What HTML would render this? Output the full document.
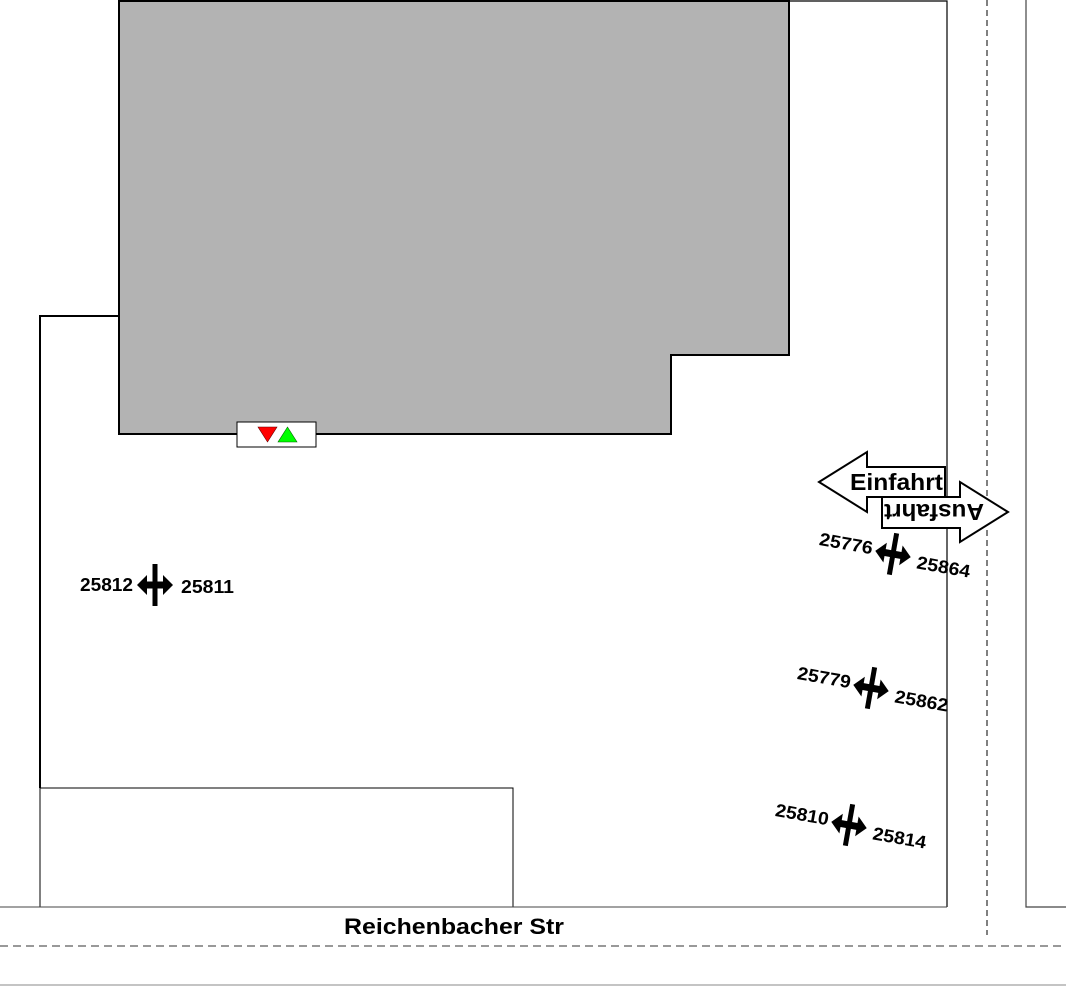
<!DOCTYPE html>
<html><head><meta charset="utf-8"><style>
html,body{margin:0;padding:0;background:#fff;}
svg{display:block;}
text{font-family:"Liberation Sans",sans-serif;font-weight:bold;}
</style></head><body>
<svg width="1066" height="986" viewBox="0 0 1066 986" xmlns="http://www.w3.org/2000/svg">
<defs>
<g id="sym">
<polygon points="-18,0 -8,-10 -8,-3.5 8,-3.5 8,-10 18,0 8,10 8,3.5 -8,3.5 -8,10" fill="#000"/>
<rect x="-2.5" y="-21" width="5" height="42" fill="#000"/>
</g>
</defs>
<polygon points="119,1 789,1 789,355 671,355 671,434 119,434" fill="#b3b3b3" stroke="#000" stroke-width="2"/>
<polyline points="789,1 947,1 947,907" fill="none" stroke="#000" stroke-width="1.2"/>
<polyline points="119,316 40,316 40,788" fill="none" stroke="#000" stroke-width="2"/>
<rect x="40" y="788" width="473" height="119" fill="none" stroke="#000" stroke-width="1"/>
<line x1="0" y1="907" x2="947" y2="907" stroke="#444" stroke-width="1"/>
<polyline points="1026,0 1026,907 1066,907" fill="none" stroke="#444" stroke-width="1.2"/>
<line x1="987" y1="0" x2="987" y2="935" stroke="#000" stroke-width="1" stroke-dasharray="6,4"/>
<line x1="0" y1="946" x2="1066" y2="946" stroke="#333" stroke-width="1" stroke-dasharray="8,5"/>
<line x1="0" y1="985" x2="1066" y2="985" stroke="#888" stroke-width="1"/>
<text x="344" y="934" font-size="22" textLength="220" lengthAdjust="spacingAndGlyphs">Reichenbacher Str</text>
<rect x="237" y="422" width="79" height="25" fill="#fff" stroke="#000" stroke-width="1"/>
<polygon points="258,427 277,427 267.5,442" fill="#f00" stroke="#600" stroke-width="0.6"/>
<polygon points="278,442 297,442 287.5,427" fill="#0f0" stroke="#060" stroke-width="0.6"/>
<polygon points="819,482 867,452 867,467 945,467 945,497 867,497 867,512" fill="#fff" stroke="#000" stroke-width="2"/>
<text x="850" y="490" font-size="23" textLength="93" lengthAdjust="spacingAndGlyphs">Einfahrt</text>
<polygon points="1008,512 960,482 960,497 882,497 882,528 960,528 960,542" fill="#fff" stroke="#000" stroke-width="2"/>
<text x="0" y="0" font-size="23" textLength="100" lengthAdjust="spacingAndGlyphs" text-anchor="middle" transform="translate(934,504) rotate(180)">Ausfahrt</text>
<g transform="translate(155,585)"><use href="#sym"/>
<text x="-75" y="6" font-size="18" textLength="53" lengthAdjust="spacingAndGlyphs">25812</text>
<text x="26" y="8" font-size="18" textLength="53" lengthAdjust="spacingAndGlyphs">25811</text></g>
<g transform="translate(893,554) rotate(10)"><use href="#sym"/>
<text x="-75" y="4" font-size="18" textLength="54" lengthAdjust="spacingAndGlyphs">25776</text>
<text x="25" y="10" font-size="18" textLength="54" lengthAdjust="spacingAndGlyphs">25864</text></g>
<g transform="translate(871,688) rotate(10)"><use href="#sym"/>
<text x="-75" y="4" font-size="18" textLength="54" lengthAdjust="spacingAndGlyphs">25779</text>
<text x="25" y="10" font-size="18" textLength="54" lengthAdjust="spacingAndGlyphs">25862</text></g>
<g transform="translate(849,825) rotate(10)"><use href="#sym"/>
<text x="-75" y="4" font-size="18" textLength="54" lengthAdjust="spacingAndGlyphs">25810</text>
<text x="25" y="10" font-size="18" textLength="54" lengthAdjust="spacingAndGlyphs">25814</text></g>
</svg>
</body></html>
